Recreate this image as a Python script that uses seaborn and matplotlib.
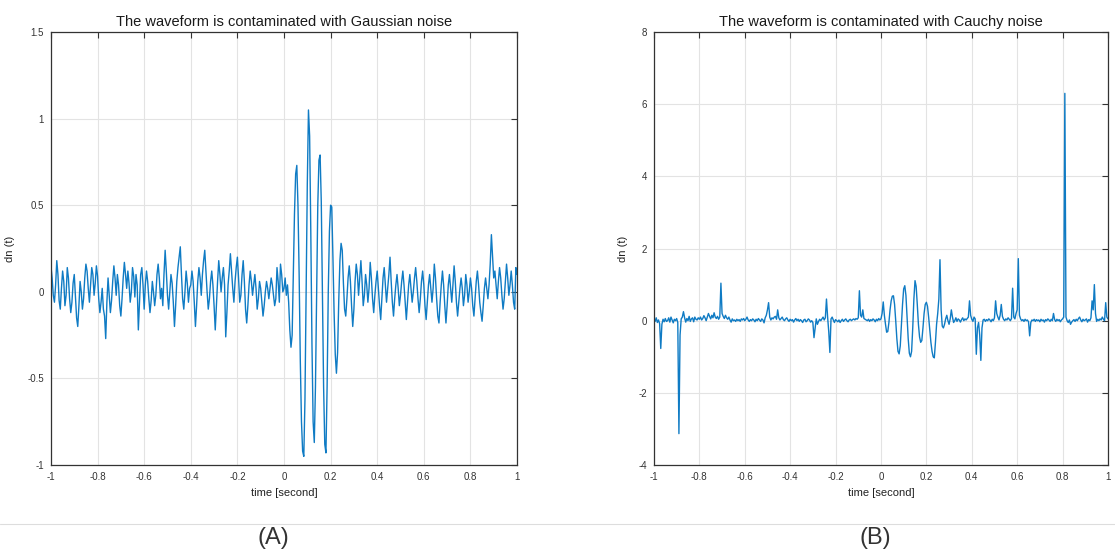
import numpy as np
import matplotlib
matplotlib.use("Agg")
import matplotlib.pyplot as plt
import seaborn as sns

# valeurs lues sur la figure, pas de 0.005 s entre -1 et 1
gauss_vals = [
    0.15, 0.08, -0.02, -0.06, 0.04, 0.18, 0.10, -0.05, -0.10, 0.02, 0.12, 0.06, -0.08, -0.02, 0.14, 0.08, -0.04, -0.12, -0.06, 0.05,
    0.10, -0.02, -0.15, -0.20, -0.08, 0.06, 0.00, -0.10, -0.04, 0.08, 0.16, 0.12, 0.02, -0.06, 0.04, 0.14, 0.10, -0.02, 0.05, 0.15,
    0.09, -0.04, -0.12, -0.06, 0.02, -0.10, -0.14, -0.27, -0.06, 0.08, -0.02, -0.12, -0.05, 0.06, 0.15, 0.08, -0.02, 0.10, 0.04, -0.08,
    -0.14, -0.04, 0.08, 0.17, 0.10, 0.02, 0.12, 0.05, -0.06, 0.00, 0.14, 0.09, -0.03, 0.10, 0.04, -0.22, -0.06, 0.10, 0.14, 0.04,
    -0.10, 0.04, 0.12, 0.06, -0.04, -0.12, -0.05, 0.06, 0.00, -0.08, -0.02, 0.10, 0.16, 0.08, -0.04, 0.02, -0.08, 0.10, 0.24, 0.12,
    -0.02, -0.10, 0.00, 0.10, 0.05, -0.06, -0.20, -0.08, 0.06, 0.14, 0.20, 0.26, 0.10, -0.04, -0.10, 0.00, 0.12, 0.05, -0.06, 0.02,
    0.04, 0.12, 0.06, -0.06, -0.20, -0.08, 0.06, 0.14, 0.08, -0.02, 0.10, 0.18, 0.24, 0.12, 0.00, -0.10, -0.04, 0.06, 0.12, 0.04,
    -0.08, -0.22, -0.08, 0.06, 0.18, 0.10, 0.00, 0.08, 0.14, 0.04, -0.26, -0.12, 0.04, 0.12, 0.22, 0.12, 0.02, -0.06, 0.06, 0.14,
    0.20, 0.08, -0.06, -0.02, 0.10, 0.18, 0.06, -0.10, -0.18, -0.08, 0.04, 0.12, 0.06, -0.02, 0.04, 0.10, 0.02, -0.10, -0.04, 0.06,
    0.02, -0.06, -0.14, -0.08, 0.00, 0.06, 0.02, -0.04, 0.02, 0.08, 0.04, -0.02, -0.08, -0.04, 0.14, 0.06, -0.06, 0.16, 0.10, 0.00,
    0.02, 0.08, -0.02, 0.04, -0.06, -0.22, -0.32, -0.25, 0.10, 0.45, 0.68, 0.73, 0.50, 0.10, -0.40, -0.75, -0.92, -0.95, -0.62, 0.00,
    0.62, 1.05, 0.90, 0.35, -0.30, -0.75, -0.87, -0.55, 0.00, 0.50, 0.76, 0.79, 0.52, 0.00, -0.55, -0.88, -0.93, -0.55, 0.00, 0.35,
    0.50, 0.49, 0.20, -0.12, -0.36, -0.47, -0.35, -0.05, 0.18, 0.28, 0.24, 0.05, -0.10, -0.14, -0.04, 0.08, 0.15, 0.06, -0.08, -0.20,
    -0.10, 0.06, 0.16, 0.10, -0.02, 0.08, 0.18, 0.06, -0.08, -0.02, 0.10, 0.04, -0.06, 0.02, 0.17, 0.08, -0.04, -0.12, -0.02, 0.06,
    0.12, 0.02, -0.08, -0.16, -0.04, 0.08, 0.14, 0.04, -0.06, 0.02, 0.10, 0.20, 0.06, -0.06, -0.14, -0.04, 0.04, 0.10, 0.02, -0.08,
    -0.02, 0.06, 0.12, 0.04, -0.06, -0.16, -0.06, 0.04, 0.10, 0.02, -0.06, 0.00, 0.08, 0.14, 0.06, -0.04, -0.12, -0.04, 0.06, 0.12,
    0.04, -0.08, -0.16, -0.06, 0.04, 0.10, 0.02, -0.06, 0.02, 0.16, 0.08, -0.04, -0.14, -0.18, -0.06, 0.04, 0.12, 0.04, -0.08, -0.18,
    -0.08, 0.04, 0.10, 0.02, -0.06, 0.04, 0.15, 0.06, -0.06, -0.14, -0.06, 0.02, 0.08, 0.02, -0.08, -0.02, 0.10, 0.04, -0.06, 0.00,
    0.08, 0.02, -0.08, -0.14, -0.04, 0.06, 0.12, 0.04, -0.06, -0.12, -0.17, -0.08, 0.02, 0.08, 0.02, -0.04, 0.04, 0.16, 0.33, 0.20,
    0.08, 0.12, 0.04, -0.04, 0.06, 0.14, 0.08, -0.02, -0.10, -0.04, 0.06, 0.16, 0.08, -0.02, 0.04, 0.12, 0.04, -0.06, -0.10, 0.14,
    0.10,
]

cauchy_vals = [
    0.05, -0.02, 0.08, -0.05, 0.02, -0.08, -0.77, -0.10, 0.04, -0.03, 0.06, -0.02, 0.00, 0.08, -0.04, 0.10, 0.02, -0.06, 0.04, 0.00,
    0.06, -0.05, -3.13, -0.40, 0.05, 0.10, 0.25, 0.08, -0.04, 0.06, 0.00, 0.12, -0.02, 0.05, 0.08, -0.03, 0.10, 0.04, 0.02, 0.08,
    0.04, 0.10, 0.02, 0.06, 0.14, 0.08, 0.00, 0.10, 0.20, 0.12, 0.05, 0.15, 0.08, 0.22, 0.10, 0.06, 0.12, 0.04, 0.10, 1.04,
    0.20, 0.12, 0.06, 0.15, 0.08, 0.04, 0.10, 0.02, -0.04, 0.05, 0.00, 0.02, -0.02, 0.04, 0.00, 0.03, -0.02, 0.05, 0.02, 0.06,
    0.00, 0.04, 0.10, 0.02, -0.02, 0.03, 0.00, 0.05, 0.02, -0.03, 0.04, 0.00, 0.06, 0.02, -0.02, 0.05, 0.02, -0.06, 0.08, 0.15,
    0.30, 0.50, 0.10, 0.02, 0.08, 0.05, 0.10, 0.12, 0.04, 0.30, 0.08, 0.02, 0.06, 0.10, 0.03, 0.00, 0.05, 0.08, 0.02, -0.02,
    0.04, 0.00, 0.03, -0.04, 0.02, 0.06, 0.00, 0.04, -0.02, 0.03, 0.00, -0.05, 0.02, 0.04, -0.03, 0.00, 0.05, 0.02, -0.04, 0.00,
    -0.05, -0.47, -0.20, 0.05, -0.10, -0.02, 0.04, 0.00, 0.05, 0.10, 0.02, 0.08, 0.60, 0.10, -0.30, -0.88, 0.05, 0.10, 0.02, -0.05,
    0.03, 0.00, -0.03, 0.02, -0.05, 0.00, 0.04, -0.02, 0.02, 0.05, 0.00, -0.03, 0.02, 0.04, 0.00, 0.03, 0.05, 0.02, 0.06, 0.04,
    0.08, 0.83, 0.15, 0.10, 0.30, 0.06, 0.04, 0.02, 0.00, 0.04, -0.02, 0.03, 0.00, 0.05, 0.02, -0.03, 0.04, 0.00, 0.06, 0.02,
    0.05, 0.20, 0.52, 0.15, -0.10, -0.32, -0.30, -0.05, 0.30, 0.55, 0.68, 0.69, 0.45, 0.00, -0.50, -0.85, -0.92, -0.70, -0.15, 0.45,
    0.88, 0.97, 0.70, 0.10, -0.50, -0.90, -1.00, -0.85, -0.20, 0.60, 1.11, 0.95, 0.45, -0.10, -0.45, -0.60, -0.55, -0.20, 0.20, 0.45,
    0.51, 0.40, 0.10, -0.25, -0.60, -0.85, -1.00, -1.03, -0.60, -0.10, 0.20, 0.60, 1.69, 0.30, -0.15, -0.20, -0.10, 0.05, 0.15, 0.00,
    -0.10, 0.05, 0.30, 0.10, -0.05, 0.00, 0.08, -0.02, 0.05, 0.02, -0.04, 0.03, 0.08, 0.00, 0.05, 0.02, 0.06, 0.10, 0.55, 0.15,
    0.04, -0.02, 0.10, 0.05, -0.93, -0.20, -0.05, -0.40, -1.10, -0.20, 0.02, 0.04, -0.02, 0.03, 0.00, 0.05, 0.02, -0.03, 0.04, 0.00,
    0.08, 0.55, 0.20, 0.10, 0.02, 0.15, 0.45, 0.12, 0.04, 0.00, 0.05, 0.02, 0.08, 0.04, 0.00, 0.06, 0.90, 0.10, 0.05, 0.20,
    0.30, 1.72, 0.15, 0.05, 0.00, 0.03, -0.02, 0.04, 0.00, 0.02, -0.03, -0.42, -0.05, 0.02, 0.00, 0.04, -0.02, 0.03, 0.00, 0.02,
    -0.03, 0.04, 0.00, 0.02, -0.04, 0.03, 0.00, 0.05, 0.02, -0.02, 0.04, 0.00, 0.20, 0.03, -0.02, 0.04, 0.00, 0.03, -0.03, 0.02,
    0.05, 0.10, 6.30, 0.10, 0.00, -0.05, 0.02, -0.10, -0.04, 0.00, 0.03, -0.02, 0.04, 0.00, 0.06, 0.10, 0.02, -0.03, 0.04, 0.00,
    0.02, 0.05, -0.04, 0.03, 0.00, 0.08, 0.55, 0.30, 1.00, 0.20, -0.02, 0.04, 0.00, 0.05, 0.02, 0.10, 0.04, 0.00, 0.50, 0.10,
    0.05,
]

x_ticks = [-1, -0.8, -0.6, -0.4, -0.2, 0, 0.2, 0.4, 0.6, 0.8, 1]
x_labels = ["-1", "-0.8", "-0.6", "-0.4", "-0.2", "0", "0.2", "0.4", "0.6", "0.8", "1"]
gauss_yticks = [-1, -0.5, 0, 0.5, 1, 1.5]
gauss_ylabels = ["-1", "-0.5", "0", "0.5", "1", "1.5"]
cauchy_yticks = [-4, -2, 0, 2, 4, 6, 8]
cauchy_ylabels = ["-4", "-2", "0", "2", "4", "6", "8"]

titles = ["The waveform is contaminated with Gaussian noise",
          "The waveform is contaminated with Cauchy noise"]
tags = ["(A)", "(B)"]

sns.set_style("white")
plt.rcParams['font.family'] = ['Liberation Sans', 'DejaVu Sans']

fig = plt.figure(figsize=(11.15, 5.54), dpi=100)
ax_a = fig.add_axes([0.0457, 0.1606, 0.4180, 0.7816])
ax_b = fig.add_axes([0.5865, 0.1606, 0.4072, 0.7816])

panels = [
    (ax_a, gauss_vals, gauss_yticks, gauss_ylabels, -0.078),
    (ax_b, cauchy_vals, cauchy_yticks, cauchy_ylabels, -0.057),
]

for i, (ax, vals, yt, yl, lab_x) in enumerate(panels):
    t = np.linspace(-1, 1, len(vals))
    sns.lineplot(x=t, y=vals, ax=ax, color="#0f7bc4", linewidth=1.0, estimator=None)
    ax.set_xlim(-1, 1)
    ax.set_ylim(yt[0], yt[-1])
    ax.set_xticks(x_ticks)
    ax.set_xticklabels(x_labels)
    ax.set_yticks(yt)
    ax.set_yticklabels(yl)
    ax.grid(True, color="#e3e3e3", linewidth=0.8)
    ax.set_axisbelow(True)
    for s in ax.spines.values():
        s.set_color("#333333")
        s.set_linewidth(0.9)
    ax.tick_params(direction="in", top=True, right=True, length=4, width=0.8,
                   color="#333333", labelcolor="#333333", labelsize=7, pad=5)
    ax.set_title(titles[i], fontsize=10.5, color="#1a1a1a", pad=4)
    ax.set_xlabel("time [second]", fontsize=8, color="#222222", labelpad=4)
    ax.set_ylabel("dn (t)", fontsize=8, color="#222222")
    ax.yaxis.set_label_coords(lab_x, 0.5)

# séparateur + étiquettes (A) (B)
fig.add_artist(plt.Line2D([0, 1], [1 - 524 / 554, 1 - 524 / 554], color="#dddddd", linewidth=0.8))
fig.text(273 / 1115, 1 - 538 / 554, tags[0], fontsize=17, color="#333333", ha="center", va="center")
fig.text(875 / 1115, 1 - 538 / 554, tags[1], fontsize=17, color="#333333", ha="center", va="center")

fig.savefig("out.png", dpi=100)
